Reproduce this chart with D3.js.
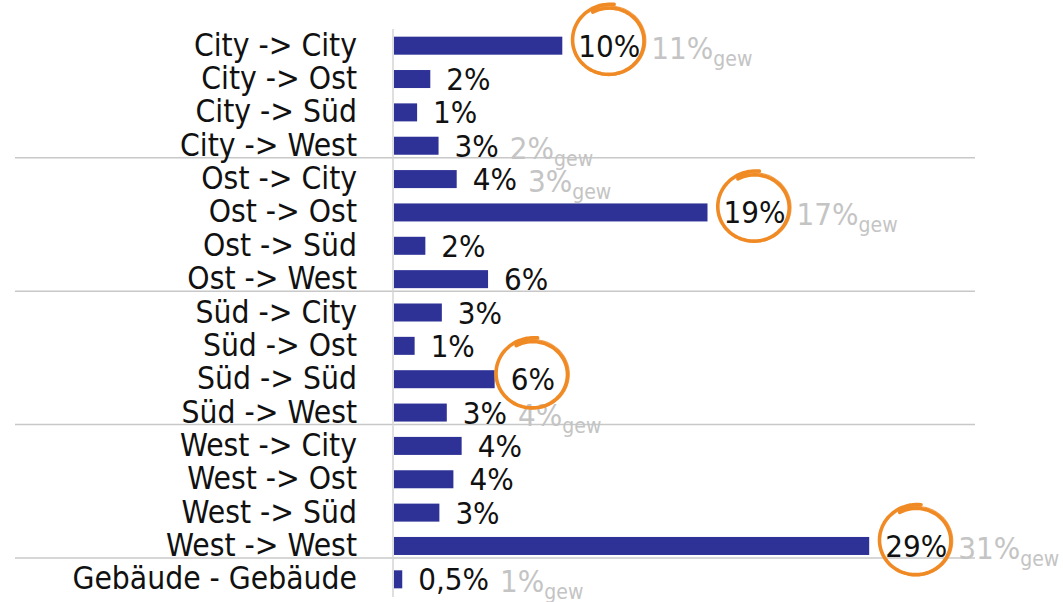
<!DOCTYPE html>
<html>
<head>
<meta charset="utf-8">
<title>Wege</title>
<script src="https://cdn.jsdelivr.net/npm/d3@7"></script>
<style>
    body { margin: 0; background: #fff; }
    svg text { font-family: "DejaVu Sans Condensed", "DejaVu Sans", sans-serif; font-stretch: condensed; }
</style>
</head>
<body>
<div id="chart"></div>
<script>
    // Wege zwischen den Gebieten, Anteil in %
    var categories = [
        "City -> City", "City -> Ost", "City -> Süd", "City -> West",
        "Ost -> City", "Ost -> Ost", "Ost -> Süd", "Ost -> West",
        "Süd -> City", "Süd -> Ost", "Süd -> Süd", "Süd -> West",
        "West -> City", "West -> Ost", "West -> Süd", "West -> West",
        "Gebäude - Gebäude"
    ];
    var values = [10.2, 2.2, 1.4, 2.7, 3.8, 19.0, 1.9, 5.7, 2.9, 1.25, 6.1, 3.2, 4.1, 3.6, 2.75, 28.8, 0.5];
    // gewichtete Werte (nur wo angegeben)
    var weighted = [11, null, null, 2, 3, 17, null, null, null, null, null, 4, null, null, null, 31, 1];
    var highlighted = ["City -> City", "Ost -> Ost", "Süd -> Süd", "West -> West"];
    var groupSize = 4;

    var width = 1063, height = 602;
    var svg = d3.select("#chart").append("svg")
        .attr("width", width).attr("height", height);

    var x = d3.scaleLinear().domain([0, 30]).range([394, 889]);
    var y = d3.scaleBand().domain(categories).range([29, 596]).paddingInner(0.46).paddingOuter(0.23);

    var de = d3.formatLocale({decimal: ",", thousands: ".", grouping: [3], currency: ["", "€"]});
    function pct(v) {
        return v < 1 ? de.format(".1f")(v) + "%" : Math.round(v) + "%";
    }

    var rows = categories.map(function (c, i) {
        return {cat: c, v: values[i], w: weighted[i], i: i};
    });

    // Trennlinien zwischen den Gruppen
    var seps = rows.filter(function (d) { return d.i % groupSize === groupSize - 1; });
    svg.selectAll(".sep").data(seps).enter().append("line")
        .attr("class", "sep")
        .attr("x1", 15).attr("x2", 975)
        .attr("y1", function (d) { return y(d.cat) + y.bandwidth() + 3; })
        .attr("y2", function (d) { return y(d.cat) + y.bandwidth() + 3; })
        .attr("stroke", "#c8c8c8").attr("stroke-width", 1.5);

    svg.append("line")
        .attr("x1", 393).attr("x2", 393).attr("y1", 29).attr("y2", 597)
        .attr("stroke", "#d4d4d4").attr("stroke-width", 1.5);

    svg.selectAll(".bar").data(rows).enter().append("rect")
        .attr("class", "bar")
        .attr("x", x(0))
        .attr("y", function (d) { return y(d.cat); })
        .attr("width", function (d) { return x(d.v) - x(0); })
        .attr("height", y.bandwidth())
        .attr("fill", "#2e3296");

    svg.selectAll(".cat").data(rows).enter().append("text")
        .attr("class", "cat")
        .attr("x", 357)
        .attr("y", function (d) { return y(d.cat) + y.bandwidth() / 2 + 10; })
        .attr("text-anchor", "end")
        .attr("font-size", 31.5)
        .attr("fill", "#111")
        .text(function (d) { return d.cat; });

    var vals = svg.selectAll(".val").data(rows).enter().append("text")
        .attr("class", "val")
        .attr("x", function (d) { return x(d.v) + 16; })
        .attr("y", function (d) { return y(d.cat) + y.bandwidth() / 2 + 11; })
        .attr("font-size", 31)
        .attr("fill", "#111")
        .text(function (d) { return pct(d.v); });

    vals.each(function (d) {
        var b = this.getBBox();
        d.labelEnd = b.x + b.width;
        d.labelCx = b.x + b.width / 2;
        d.labelCy = y(d.cat) + y.bandwidth() / 2;
    });

    // gewichtete Werte mit tiefgestelltem "gew"
    var gew = svg.selectAll(".gew").data(rows.filter(function (d) { return d.w != null; }))
        .enter().append("text")
        .attr("class", "gew")
        .attr("x", function (d) { return d.labelEnd + 11; })
        .attr("y", function (d) { return y(d.cat) + y.bandwidth() / 2 + 13; })
        .attr("fill", "#c4c4c4")
        .attr("font-size", 31);
    gew.append("tspan").text(function (d) { return d.w + "%"; });
    gew.append("tspan").attr("dy", 7).attr("font-size", 21).text("gew");

    // handgezeichnete Kreise
    function brush(cx, cy, r, turns, r0, r1) {
        var pts = [], n = 100, a0 = -Math.PI * 0.66;
        for (var k = 0; k <= n; k++) {
            var t = k / n, a = a0 + t * turns * 2 * Math.PI;
            var rr = r * (r0 + (r1 - r0) * t * t);
            pts.push([cx + rr * Math.cos(a), cy + rr * 0.95 * Math.sin(a)]);
        }
        return d3.line().curve(d3.curveCatmullRom)(pts);
    }
    var hl = rows.filter(function (d) { return highlighted.indexOf(d.cat) >= 0; });
    var circ = svg.selectAll(".circ").data(hl).enter().append("g").attr("class", "circ");
    circ.append("path")
        .attr("d", function (d) { return brush(d.labelCx, d.labelCy - 5, 35, 1.1, 0.98, 1.1); })
        .attr("fill", "none").attr("stroke", "#f08a24")
        .attr("stroke-width", 3.6).attr("stroke-linecap", "round");
    circ.append("path")
        .attr("d", function (d) { return brush(d.labelCx, d.labelCy - 5, 36.5, 0.75, 1.0, 1.0); })
        .attr("fill", "none").attr("stroke", "#f08a24")
        .attr("stroke-width", 1.2).attr("opacity", 0.8);
</script>
</body>
</html>
